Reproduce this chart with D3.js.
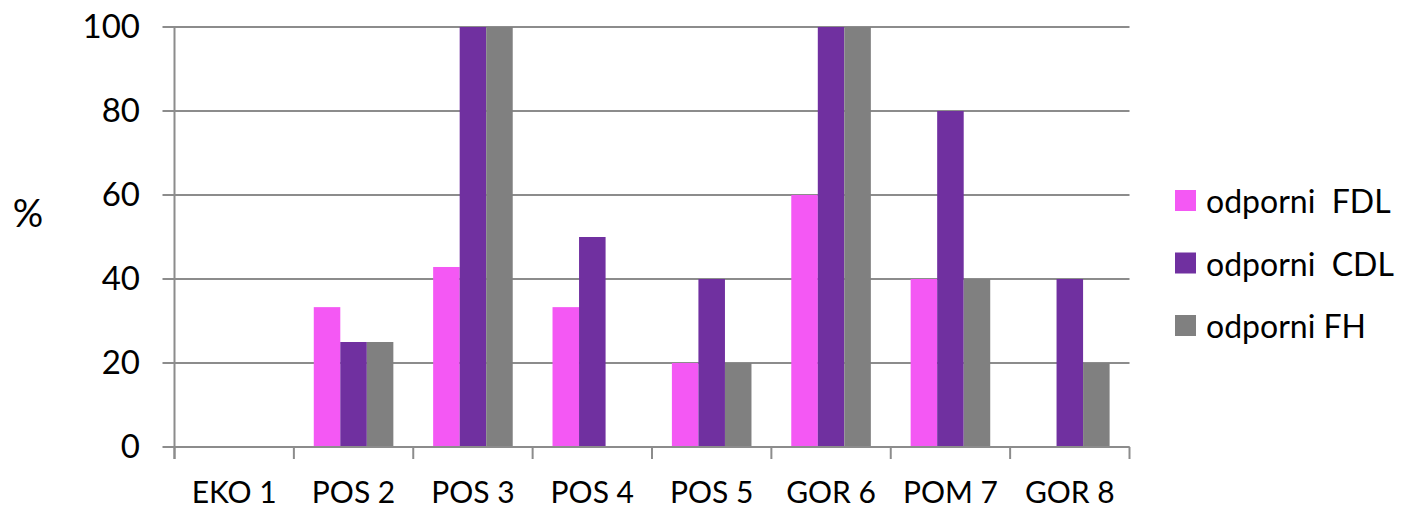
<!DOCTYPE html>
<html><head><meta charset="utf-8">
<script src="https://cdn.jsdelivr.net/npm/d3@7"></script>
<style>
html,body{margin:0;padding:0;background:#fff;}
svg text{font-family:Lato,"Open Sans",sans-serif;fill:#000;}
</style></head>
<body>
<svg id="chart" width="1403" height="510"></svg>
<script>
const categories = ["EKO 1","POS 2","POS 3","POS 4","POS 5","GOR 6","POM 7","GOR 8"];
const seriesNames = ["odporni  FDL","odporni  CDL","odporni FH"];
const fdl = [0, 33.3, 42.86, 33.3, 20, 60, 40, 0];
const cdl = [0, 25, 100, 50, 40, 100, 80, 40];
const fh  = [0, 25, 100, 0, 20, 100, 40, 20];
const colors = ["#F458F4", "#7030A0", "#808080"];
const yTicks = [0, 20, 40, 60, 80, 100];

const series = [fdl, cdl, fh];
const svg = d3.select("#chart");
const pLeft = 174.5, pRight = 1129.5, pTop = 27, pBottom = 447;
const gridColor = "#8c8c8c";

const x0 = d3.scaleBand().domain(categories).range([pLeft, pRight]).padding(0);
const step = x0.step();
const x1 = d3.scaleBand().domain(d3.range(series.length)).range([step/6, step*5/6]).padding(0);
const y = d3.scaleLinear().domain([0, 100]).range([pBottom, pTop]);

// gridlines
svg.append("g").selectAll("line").data(yTicks).join("line")
  .attr("x1", pLeft - 12).attr("x2", pRight)
  .attr("y1", d => y(d)).attr("y2", d => y(d))
  .attr("stroke", gridColor).attr("stroke-width", 2);

// y axis line
svg.append("line").attr("x1", pLeft).attr("x2", pLeft).attr("y1", pTop).attr("y2", pBottom + 12)
  .attr("stroke", gridColor).attr("stroke-width", 2);

// bars
const g = svg.append("g");
categories.forEach((c, i) => {
  series.forEach((s, j) => {
    if (s[i] > 0) {
      g.append("rect")
        .attr("x", x0(c) + x1(j))
        .attr("y", y(s[i]))
        .attr("width", x1.bandwidth())
        .attr("height", y(0) - y(s[i]))
        .attr("fill", colors[j]);
    }
  });
});

// x axis
svg.append("line").attr("x1", pLeft).attr("x2", pRight).attr("y1", pBottom).attr("y2", pBottom)
  .attr("stroke", gridColor).attr("stroke-width", 2);
const bounds = categories.map(c => x0(c)).concat([pRight]);
svg.append("g").selectAll("line").data(bounds).join("line")
  .attr("x1", d => d).attr("x2", d => d).attr("y1", pBottom).attr("y2", pBottom + 12)
  .attr("stroke", gridColor).attr("stroke-width", 2);

// x labels
svg.append("g").selectAll("text").data(categories).join("text")
  .attr("x", d => x0(d) + step/2).attr("y", 503)
  .attr("text-anchor", "middle").attr("font-size", 30).text(d => d);

// y labels
svg.append("g").selectAll("text").data(yTicks).join("text")
  .attr("x", 140).attr("y", d => y(d) + 11)
  .attr("text-anchor", "end").attr("font-size", 33).text(d => d);

// % label
svg.append("text").attr("x", 28).attr("y", 227).attr("text-anchor", "middle")
  .attr("font-size", 38).text("%");

// legend
const lg = svg.append("g");
seriesNames.forEach((n, i) => {
  const cy = 200.5 + i * 62.5;
  lg.append("rect").attr("x", 1175).attr("y", cy - 10.5).attr("width", 21).attr("height", 21).attr("fill", colors[i]);
  lg.append("text").attr("x", 1206).attr("y", cy + 12.5).attr("font-size", 32)
    .style("white-space","pre").text(n);
});
</script>
</body></html>
